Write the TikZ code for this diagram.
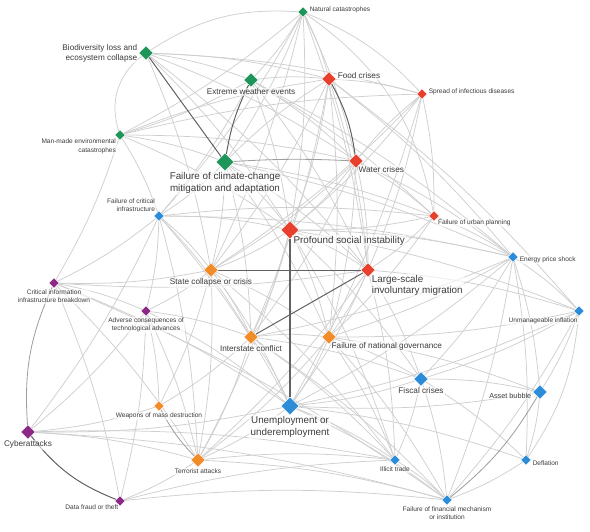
\documentclass[tikz,border=0pt]{standalone}
\usepackage{fontspec}
\setmainfont{Liberation Sans}
\usepackage{tikz}
\usetikzlibrary{shapes.geometric,backgrounds}
\definecolor{envgreen}{RGB}{30,150,90}
\definecolor{socred}{RGB}{232,64,44}
\definecolor{geoorange}{RGB}{242,140,40}
\definecolor{ecoblue}{RGB}{45,140,215}
\definecolor{techpurple}{RGB}{140,40,135}
\definecolor{lbltext}{RGB}{60,60,60}

\tikzset{
  risk/.style={diamond, aspect=1, inner sep=0pt, draw=white, line width=0.3pt, fill=#1},
  riskL/.style={risk=#1, minimum size=0.54cm},
  riskM/.style={risk=#1, minimum size=0.43cm},
  riskS/.style={risk=#1, minimum size=0.31cm},
  lblbase/.style={text=lbltext, inner sep=1pt, fill=white, fill opacity=0.6, text opacity=1},
  lblL/.style={lblbase, font=\fontsize{8.4}{10}\selectfont},
  lblM/.style={lblbase, font=\fontsize{7}{8.4}\selectfont},
  lblS/.style={lblbase, font=\fontsize{5.6}{7}\selectfont},
  link/.style={draw=black!19, line width=0.65pt},
  linkmid/.style={draw=black!38, line width=0.7pt},
  linkdark/.style={draw=black!62, line width=0.85pt}
}

\begin{document}
\begin{tikzpicture}[x=0.03cm,y=-0.03cm]
  \useasboundingbox (0,0) rectangle (590,531);

  % environmental
  \node[riskS=envgreen, label={[lblS,anchor=west,yshift=2pt]east:Natural catastrophes}] (nat) at (303,12) {};
  \node[riskM=envgreen, label={[lblM,align=right,anchor=east]west:Biodiversity loss and\\ecosystem collapse}] (bio) at (146,53) {};
  \node[riskM=envgreen, label={[lblM,anchor=north]south:Extreme weather events}] (ext) at (251,80) {};
  \node[riskS=envgreen, label={[lblS,align=right,anchor=north east]south west:Man-made environmental\\catastrophes}] (man) at (120,135) {};
  \node[riskL=envgreen, label={[lblL,align=center,anchor=north]south:Failure of climate-change\\mitigation and adaptation}] (clim) at (225,162) {};

  % societal
  \node[riskM=socred, label={[lblM,anchor=west,yshift=3pt]east:Food crises}] (food) at (329,79) {};
  \node[riskS=socred, label={[lblS,anchor=west,yshift=2pt]east:Spread of infectious diseases}] (spread) at (422,94) {};
  \node[riskM=socred, label={[lblM,anchor=north west,xshift=-2pt]south east:Water crises}] (water) at (356,161) {};
  \node[riskS=socred, label={[lblS,anchor=north west]south east:Failure of urban planning}] (urban) at (434,216) {};
  \node[riskL=socred, label={[lblL,anchor=north west,xshift=-2pt]south east:Profound social instability}] (soc) at (290,230) {};
  \node[riskM=socred, label={[lblL,align=left,anchor=north west,xshift=-1pt]south east:Large-scale\\involuntary migration}] (migr) at (368,270) {};

  % geopolitical
  \node[riskM=geoorange, label={[lblM,anchor=north]south:State collapse or crisis}] (state) at (211,270) {};
  \node[riskM=geoorange, label={[lblM,anchor=north]south:Interstate conflict}] (inter) at (251,337) {};
  \node[riskM=geoorange, label={[lblM,anchor=north west,xshift=-2pt]south east:Failure of national governance}] (gov) at (329,337) {};
  \node[riskS=geoorange, label={[lblS,anchor=north]south:Weapons of mass destruction}] (wmd) at (159,406) {};
  \node[riskM=geoorange, label={[lblS,anchor=north]south:Terrorist attacks}] (terr) at (198,460) {};

  % economic
  \node[riskS=ecoblue, label={[lblS,align=right,anchor=south east]north west:Failure of critical\\infrastructure}] (crit) at (159,216) {};
  \node[riskS=ecoblue, label={[lblS,anchor=west,yshift=-2pt]east:Energy price shock}] (energy) at (513,257) {};
  \node[riskS=ecoblue, label={[lblS,anchor=north east]south:Unmanageable inflation}] (infl) at (579,311) {};
  \node[riskM=ecoblue, label={[lblM,anchor=north]south:Fiscal crises}] (fisc) at (421,379) {};
  \node[riskM=ecoblue, label={[lblM,font=\fontsize{6.2}{7}\selectfont,anchor=east,yshift=-3pt]west:Asset bubble}] (asset) at (540,392) {};
  \node[riskL=ecoblue, label={[lblL,align=center,anchor=north]south:Unemployment or\\underemployment}] (unem) at (290,406) {};
  \node[riskS=ecoblue, label={[lblS,anchor=north]south:Illicit trade}] (illicit) at (395,460) {};
  \node[riskS=ecoblue, label={[lblS,anchor=west,yshift=-3pt]east:Deflation}] (defl) at (526,460) {};
  \node[riskS=ecoblue, label={[lblS,align=center,anchor=north]south:Failure of financial mechanism\\or institution}] (fin) at (447,500) {};

  % technological
  \node[riskS=techpurple, label={[lblS,align=center,anchor=north]south:Critical information\\infrastructure breakdown}] (cii) at (54,283) {};
  \node[riskS=techpurple, label={[lblS,align=center,anchor=north]south:Adverse consequences of\\technological advances}] (adv) at (146,311) {};
  \node[riskM=techpurple, label={[lblM,anchor=north]south:Cyberattacks}] (cyber) at (28,432) {};
  \node[riskS=techpurple, label={[lblS,anchor=north east,xshift=2pt]south west:Data fraud or theft}] (fraud) at (120,501) {};

  \begin{pgfonlayer}{background}
    % light links
    \foreach \a/\b in {nat/ext, nat/clim, nat/food, nat/water, nat/man, nat/crit, nat/migr, nat/soc, nat/state,
      bio/ext, bio/food, bio/water, bio/spread, bio/migr, bio/soc, bio/state,
      ext/food, ext/water, ext/crit, ext/migr, ext/urban, ext/man, ext/soc, ext/energy,
      man/clim, man/water, man/food, man/crit, man/spread, man/cii, man/soc,
      clim/food, clim/soc, clim/migr, clim/state, clim/urban, clim/energy, clim/crit, clim/inter, clim/gov,
      food/soc, food/migr, food/spread, food/state, food/inter, food/infl, food/gov, food/energy,
      water/soc, water/migr, water/inter, water/state, water/urban, water/spread, water/energy, water/gov,
      spread/soc, spread/migr, spread/urban, spread/unem, spread/state,
      crit/soc, crit/urban, crit/cii, crit/adv, crit/state, crit/cyber, crit/terr, crit/unem, crit/energy, crit/inter,
      urban/soc, urban/migr, urban/energy, urban/gov,
      soc/migr, soc/state, soc/gov, soc/inter, soc/fisc, soc/terr, soc/energy, soc/illicit, soc/infl,
      energy/infl, energy/asset, energy/fisc, energy/defl, energy/fin, energy/unem, energy/inter, energy/gov,
      state/inter, state/gov, state/terr, state/wmd, state/illicit, state/unem, state/cii, state/adv,
      migr/gov, migr/unem, migr/terr, migr/fisc, migr/illicit, migr/infl, migr/cii,
      cii/adv, cii/fraud, cii/terr, cii/unem, cii/fin,
      infl/asset, infl/fisc, infl/unem, infl/fin, infl/gov,
      adv/cyber, adv/fraud, adv/inter, adv/unem, adv/wmd, adv/terr,
      inter/gov, inter/wmd, inter/terr, inter/unem, inter/illicit, inter/fisc, inter/fin,
      gov/fisc, gov/unem, gov/illicit, gov/terr, gov/fin, gov/asset,
      fisc/unem, fisc/asset, fisc/defl, fisc/fin, fisc/illicit,
      asset/defl, asset/unem,
      wmd/cyber,
      unem/defl, unem/fin, unem/illicit, unem/terr, unem/cyber,
      cyber/terr, cyber/fin, cyber/illicit,
      terr/fraud, terr/illicit, terr/fin,
      illicit/fin, defl/fin, fraud/fin, fraud/illicit}
      \draw[link] (\a) to[bend left=6] (\b);

    % wide arcs
    \draw[link] (nat) to[bend right=18] (bio);
    \draw[link] (nat) to[bend left=22] (urban);
    \draw[link] (nat) to[bend left=12] (spread);
    \draw[link] (bio) to[bend right=35] (man);
    \draw[link] (infl) to[bend left=14] (defl);
    \draw[linkmid] (cii) to[bend right=14] (cyber);

    % darker links
    \draw[linkmid] (clim) to[bend left=3] (water);
    \draw[linkmid] (wmd) to[bend right=8] (terr);
    \draw[linkdark] (bio) -- (clim);
    \draw[linkdark] (ext) to[bend right=8] (clim);
    \draw[linkdark] (food) to[bend left=10] (water);
    \draw[linkdark] (state) -- (migr);
    \draw[linkdark] (migr) -- (inter);
    \draw[linkdark, line width=1.1pt] (soc) -- (unem);
    \draw[linkdark] (cyber) to[bend right=15] (fraud);
    \draw[linkmid] (fin) to[bend right=10] (asset);
  \end{pgfonlayer}
\end{tikzpicture}
\end{document}
